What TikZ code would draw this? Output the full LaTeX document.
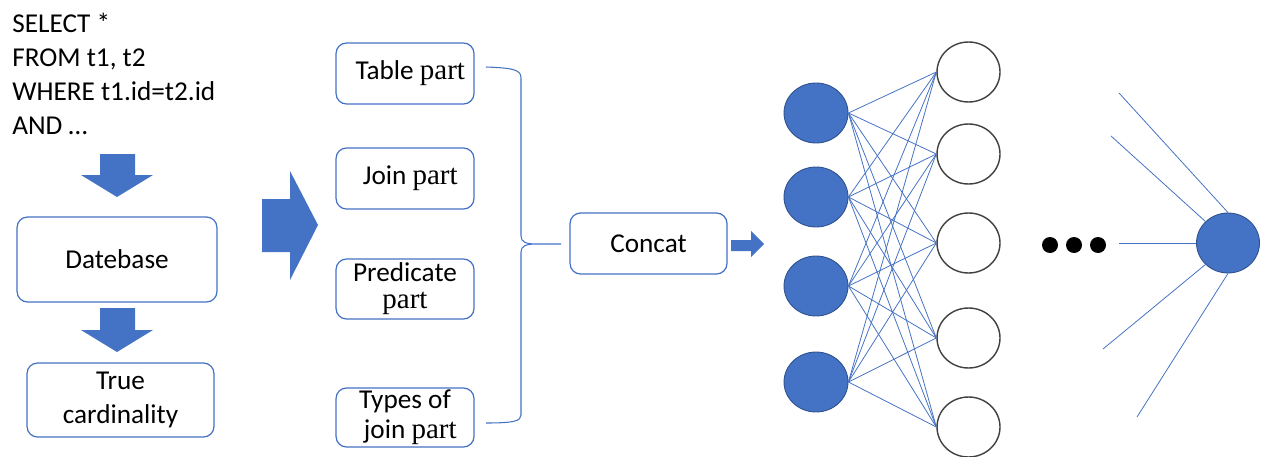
\documentclass[tikz,border=0pt]{standalone}
\usepackage{fontspec}
\setmainfont{Carlito}
\newfontfamily\serifpart{Liberation Serif}
\usetikzlibrary{shapes.geometric}
\definecolor{nnblue}{HTML}{4472C4}
\definecolor{nnedge}{HTML}{2F528F}
\newcommand{\partword}{{\serifpart\fontsize{16.5}{19}\selectfont part}}

\begin{document}
\begin{tikzpicture}[x=0.02cm, y=-0.02cm,
    every node/.style={font=\fontsize{15.5}{19.3}\selectfont},
    box/.style={draw=nnblue, line width=0.7pt, rounded corners=6pt, fill=white, align=center, inner sep=0pt},
    unit/.style={ellipse, draw=nnedge, line width=0.5pt, fill=nnblue, minimum width=1.28cm, minimum height=1.2cm, inner sep=0pt},
    hidden/.style={ellipse, draw=black!75, line width=0.8pt, fill=white, minimum width=1.26cm, minimum height=1.2cm, inner sep=0pt},
    link/.style={draw=nnblue, line width=0.45pt}]
  \useasboundingbox (0,0) rectangle (1263,456);
  % SQL query
  \node[anchor=north west, align=left, inner sep=0pt] (query) at (12,13)
    {SELECT *\\FROM t1, t2\\WHERE t1.id=t2.id\\AND \dots};
  % arrows on the left
  \fill[nnblue] (100,154) -- (135,154) -- (135,175) -- (153,175) -- (117,197) -- (81,175) -- (100,175) -- cycle;
  \fill[nnblue] (100,308) -- (135,308) -- (135,330) -- (153,330) -- (117,352) -- (81,330) -- (100,330) -- cycle;
  % Database and cardinality boxes
  \node[box, minimum width=4cm, minimum height=1.7cm] (db) at (117,259.5) {Datebase};
  \node[box, minimum width=3.74cm, minimum height=1.48cm] (card) at (120.5,400) {True\\cardinality};
  % big arrow to the parts
  \fill[nnblue] (262,199) -- (290,199) -- (290,171) -- (318,225) -- (290,280) -- (290,252) -- (262,252) -- cycle;
  % query parts
  \node[box, minimum width=2.76cm, minimum height=1.22cm] (table) at (405,73.5) {\hspace{6pt}Table \partword};
  \node[box, minimum width=2.76cm, minimum height=1.22cm] (join) at (405,178.5) {\hspace{6pt}Join \partword};
  \node[box, minimum width=2.76cm, minimum height=1.2cm] (pred) at (405,289) {Predicate\\[-4pt]\partword};
  \node[box, minimum width=2.76cm, minimum height=1.18cm] (types) at (405,417.5) {Types of\\[-2pt]\hspace{6pt}join \partword};
  % brace
  \draw[nnblue, line width=0.6pt] (486,67) .. controls (514,68) and (521,70) .. (521,78) -- (521,236)
    .. controls (521,242) and (526,244) .. (536,244) -- (561,244) -- (536,244)
    .. controls (526,244) and (521,246) .. (521,252) -- (521,415)
    .. controls (521,421) and (514,423) .. (486,423);
  % Concat box and arrow
  \node[box, minimum width=3.14cm, minimum height=1.22cm] (concat) at (648.5,243.5) {Concat};
  \fill[nnblue] (731,240) -- (751,240) -- (751,231) -- (764,244) -- (751,257) -- (751,251) -- (731,251) -- cycle;
  % network
  \foreach \i/\y in {1/113, 2/197, 3/286, 4/382}
    \node[unit] (in\i) at (816,\y) {};
  \foreach \j/\y in {1/72, 2/154, 3/243, 4/338, 5/427}
    \node[hidden] (hid\j) at (968.5,\y) {};
  \foreach \i in {1,...,4}
    \foreach \j in {1,...,5}
      \draw[link] (in\i.east) -- (hid\j.west);
  % dots and output unit
  \foreach \x in {1050, 1074, 1098}
    \fill (\x,245) circle (8);
  \node[unit, minimum width=1.26cm] (out) at (1228,243) {};
  \coordinate (o1) at (1119,93);
  \coordinate (o2) at (1111,136);
  \coordinate (o3) at (1119,243);
  \coordinate (o4) at (1103,349);
  \coordinate (o5) at (1137,417);
  \draw[link] (o1) -- (out.north);
  \draw[link] (o2) -- (out.north west);
  \draw[link] (o3) -- (out.west);
  \draw[link] (o4) -- (out.south west);
  \draw[link] (o5) -- (out.south);
\end{tikzpicture}
\end{document}
